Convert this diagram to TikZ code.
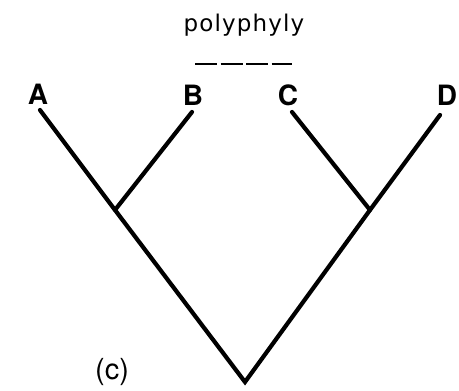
\documentclass[tikz,border=0pt]{standalone}
\usepackage{fontspec}
\setsansfont{TeX Gyre Heros}
\newfontfamily\spacedfont[LetterSpace=5]{DejaVu Sans}
\usepackage{tikz}
\usetikzlibrary{positioning, calc}
\tikzset{
  font=\sffamily,
  branch/.style={draw=black, line width=4.2pt, line cap=round, line join=miter},
  taxon/.style={font=\fontsize{28}{28}\selectfont\sffamily\bfseries, anchor=base, inner sep=0pt},
  grouplab/.style={font=\fontsize{23}{23}\selectfont\spacedfont, anchor=base, inner sep=0pt},
  grouprule/.style={draw=black, line width=2pt, dash pattern=on 22pt off 3.5pt},
  panel/.style={font=\fontsize{29}{29}\selectfont\sffamily, anchor=base, inner sep=0pt}
}

\begin{document}
\begin{tikzpicture}[x=1pt,y=-1pt]
  \useasboundingbox (0,0) rectangle (459,391);
  % taxa
  \node[taxon] (labA) at (38,104) {A};
  \node[taxon] (labB) at (193,105) {B};
  \node[taxon] (labC) at (288,105) {C};
  \node[taxon] (labD) at (447,105) {D};
  % tree points
  \coordinate (tipA) at (40,110);
  \coordinate (tipB) at (192,112);
  \coordinate (tipC) at (292,112);
  \coordinate (tipD) at (440,115);
  \coordinate (nodeAB) at (115,210);
  \coordinate (nodeCD) at (370,210);
  \coordinate (root) at (245,382);
  % branches
  \draw[branch] (tipA) -- (nodeAB) -- (root) -- (nodeCD) -- (tipD);
  \draw[branch] (nodeAB) -- (tipB);
  \draw[branch] (nodeCD) -- (tipC);
  % polyphyletic group
  \node[grouplab] (poly) at (244,31) {polyphyly};
  \coordinate (ruleL) at (195,64);
  \coordinate (ruleR) at (292,64);
  \draw[grouprule] (ruleL) -- (ruleR);
  % panel tag
  \node[panel] (tag) at (112,379) {(c)};
\end{tikzpicture}
\end{document}
